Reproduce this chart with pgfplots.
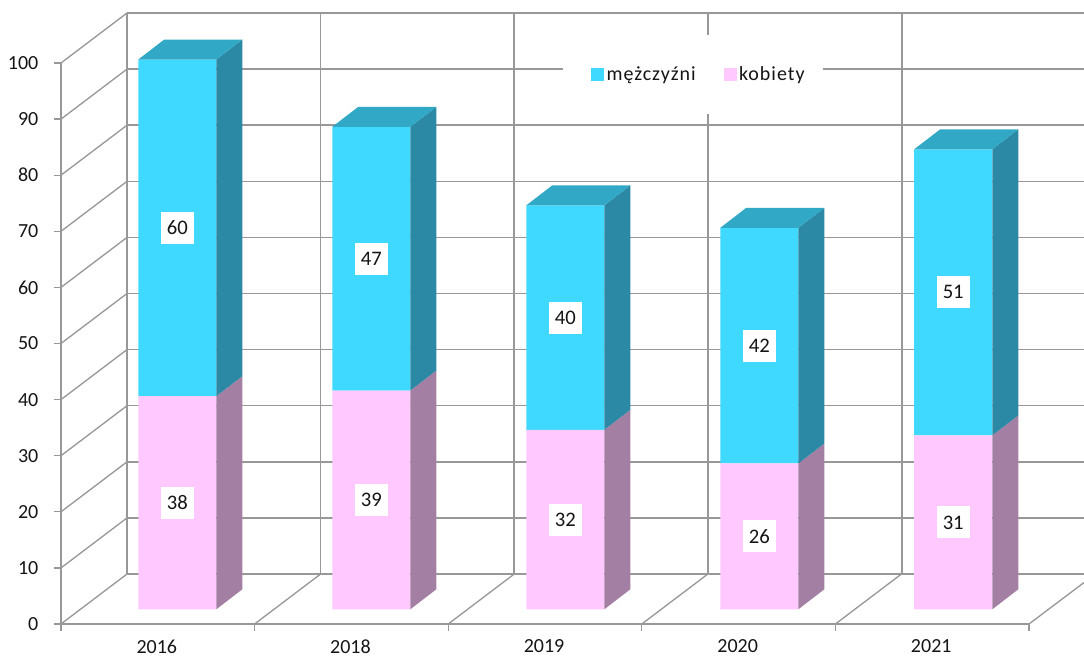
\documentclass[border=0pt]{standalone}
\usepackage{fontspec}
\setmainfont{Carlito}
\usepackage{pgfplots}
\pgfplotsset{compat=1.18}
\definecolor{cyanf}{HTML}{3FD8FF}
\definecolor{pinkf}{HTML}{FFC8FF}
\definecolor{cyans}{HTML}{2B89A5}
\definecolor{pinks}{HTML}{A37FA3}
\definecolor{cyant}{HTML}{31A8C5}
\definecolor{gridc}{HTML}{989898}
\definecolor{txt}{HTML}{151515}
\newcommand\lab{\fontsize{15}{17}\selectfont\color{txt}}
\newcommand\vallab{\fontsize{15.5}{17}\selectfont\color{txt}}
\pgfplotsset{
  base/.style={scale only axis, width=767.25pt, height=458.25pt,
    xmin=0, xmax=5.284, ymin=0, ymax=108.91, clip=false},
}
\begin{document}
\begin{tikzpicture}
\path[use as bounding box] (-45.75pt,-24.75pt) rectangle (767.25pt,468pt);
% walls, floor, ticks and legend
\begin{axis}[base,
  axis lines=left, axis line style={draw=none,-},
  tick align=outside, major tick length=5pt,
  ytick={0,10,20,30,40,50,60,70,80,90,100},
  xtick={0.495,1.495,2.495,3.495,4.495},
  xticklabels={2016,2018,2019,2020,2021},
  minor xtick={0,1,2,3,4,5},
  x tick style={draw=none},
  minor x tick style={draw=gridc,line width=1pt},
  minor tick length=5pt,
  y tick style={draw=gridc,line width=1pt},
  /pgf/number format/assume math mode=true,
  tick label style={font=\lab},
  yticklabel style={xshift=-8.5pt},
  xticklabel style={inner ysep=0pt, yshift=-6.5pt},
  legend columns=2,
  legend cell align=left,
  legend style={at={(axis cs:2.738,97.95)}, anchor=west, draw=none, fill=none,
    inner xsep=0pt, inner ysep=0pt,
    font=\lab\addfontfeature{LetterSpace=5},
    /tikz/every even column/.append style={column sep=19pt}},
  legend image code/.code={\fill[#1] (0pt,-4.5pt) rectangle (9pt,4.5pt);},
]
\addplot[gridc, line width=1.1pt, unbounded coords=jump, forget plot] coordinates {
 (0.341,8.91) (5.284,8.91) (nan,nan)
 (0.341,18.91) (5.284,18.91) (nan,nan)
 (0.341,28.91) (5.284,28.91) (nan,nan)
 (0.341,38.91) (5.284,38.91) (nan,nan)
 (0.341,48.91) (5.284,48.91) (nan,nan)
 (0.341,58.91) (5.284,58.91) (nan,nan)
 (0.341,68.91) (5.284,68.91) (nan,nan)
 (0.341,78.91) (5.284,78.91) (nan,nan)
 (0.341,88.91) (5.284,88.91) (nan,nan)
 (0.341,98.91) (5.284,98.91) (nan,nan)
 (0.341,108.91) (5.284,108.91) (nan,nan)
 (0.341,8.91) (0.341,108.91) (nan,nan)
 (1.341,8.91) (1.341,108.91) (nan,nan)
 (2.341,8.91) (2.341,108.91) (nan,nan)
 (3.341,8.91) (3.341,108.91) (nan,nan)
 (4.345,8.91) (4.345,108.91) (nan,nan)
 (0,0) (0,100) (nan,nan)
 (0,0) (5,0)
};
\addplot[gridc, line width=1pt, unbounded coords=jump, forget plot] coordinates {
 (0,0) (0.341,8.91) (nan,nan)
 (0,10) (0.341,18.91) (nan,nan)
 (0,20) (0.341,28.91) (nan,nan)
 (0,30) (0.341,38.91) (nan,nan)
 (0,40) (0.341,48.91) (nan,nan)
 (0,50) (0.341,58.91) (nan,nan)
 (0,60) (0.341,68.91) (nan,nan)
 (0,70) (0.341,78.91) (nan,nan)
 (0,80) (0.341,88.91) (nan,nan)
 (0,90) (0.341,98.91) (nan,nan)
 (0,100) (0.341,108.91) (nan,nan)
 (1,0) (1.341,8.91) (nan,nan)
 (2,0) (2.341,8.91) (nan,nan)
 (3,0) (3.341,8.91) (nan,nan)
 (4,0) (4.341,8.91) (nan,nan)
 (5,0) (5.284,7.39)
};
\addplot[fill=white, draw=none, forget plot] coordinates {
 (2.593,90.9) (3.936,90.9) (3.936,105.0) (2.593,105.0)} --cycle;
\addlegendimage{cyanf}
\addlegendentry{mężczyźni}
\addlegendimage{pinkf}
\addlegendentry{kobiety}
\end{axis}
% bar fronts, stacked, on the plane of the bars
\begin{axis}[base, hide axis, xshift=14.6pt, yshift=11pt,
  ybar stacked, bar width=58.5pt]
\addplot[fill=pinkf, draw=none] coordinates {(0.5,38) (1.502,39) (2.504,32) (3.506,26) (4.508,31)};
\addplot[fill=cyanf, draw=none] coordinates {(0.5,60) (1.502,47) (2.504,40) (3.506,42) (4.508,51)};
\end{axis}
% bar sides, tops and value labels
\begin{axis}[base, hide axis, xshift=14.6pt, yshift=11pt]
\addplot[fill=pinks, draw=none] coordinates {(0.7015,0) (0.8358,3.565) (0.8358,41.565) (0.7015,38)} --cycle;
\addplot[fill=cyans, draw=none] coordinates {(0.7015,38) (0.8358,41.565) (0.8358,101.565) (0.7015,98)} --cycle;
\addplot[fill=cyant, draw=none] coordinates {(0.2985,98) (0.7015,98) (0.8358,101.565) (0.4328,101.565)} --cycle;
\addplot[fill=pinks, draw=none] coordinates {(1.7035,0) (1.8378,3.565) (1.8378,42.565) (1.7035,39)} --cycle;
\addplot[fill=cyans, draw=none] coordinates {(1.7035,39) (1.8378,42.565) (1.8378,89.565) (1.7035,86)} --cycle;
\addplot[fill=cyant, draw=none] coordinates {(1.3005,86) (1.7035,86) (1.8378,89.565) (1.4348,89.565)} --cycle;
\addplot[fill=pinks, draw=none] coordinates {(2.7055,0) (2.8398,3.565) (2.8398,35.565) (2.7055,32)} --cycle;
\addplot[fill=cyans, draw=none] coordinates {(2.7055,32) (2.8398,35.565) (2.8398,75.565) (2.7055,72)} --cycle;
\addplot[fill=cyant, draw=none] coordinates {(2.3025,72) (2.7055,72) (2.8398,75.565) (2.4368,75.565)} --cycle;
\addplot[fill=pinks, draw=none] coordinates {(3.7075,0) (3.8418,3.565) (3.8418,29.565) (3.7075,26)} --cycle;
\addplot[fill=cyans, draw=none] coordinates {(3.7075,26) (3.8418,29.565) (3.8418,71.565) (3.7075,68)} --cycle;
\addplot[fill=cyant, draw=none] coordinates {(3.3045,68) (3.7075,68) (3.8418,71.565) (3.4388,71.565)} --cycle;
\addplot[fill=pinks, draw=none] coordinates {(4.7095,0) (4.8438,3.565) (4.8438,34.565) (4.7095,31)} --cycle;
\addplot[fill=cyans, draw=none] coordinates {(4.7095,31) (4.8438,34.565) (4.8438,85.565) (4.7095,82)} --cycle;
\addplot[fill=cyant, draw=none] coordinates {(4.3065,82) (4.7095,82) (4.8438,85.565) (4.4408,85.565)} --cycle;
\addplot[draw=none, mark=none, nodes near coords, point meta=explicit symbolic,
  every node near coord/.append style={fill=white, anchor=center, font=\vallab,
    inner xsep=0pt, inner ysep=0pt, minimum height=24pt, minimum width=24.75pt}]
 coordinates {
 (0.5,19)[38] (1.502,19.5)[39] (2.504,16)[32] (3.506,13)[26] (4.508,15.5)[31]
 (0.5,68)[60] (1.502,62.5)[47] (2.504,52)[40] (3.506,47)[42] (4.508,56.5)[51]
};
\end{axis}
\end{tikzpicture}
\end{document}
